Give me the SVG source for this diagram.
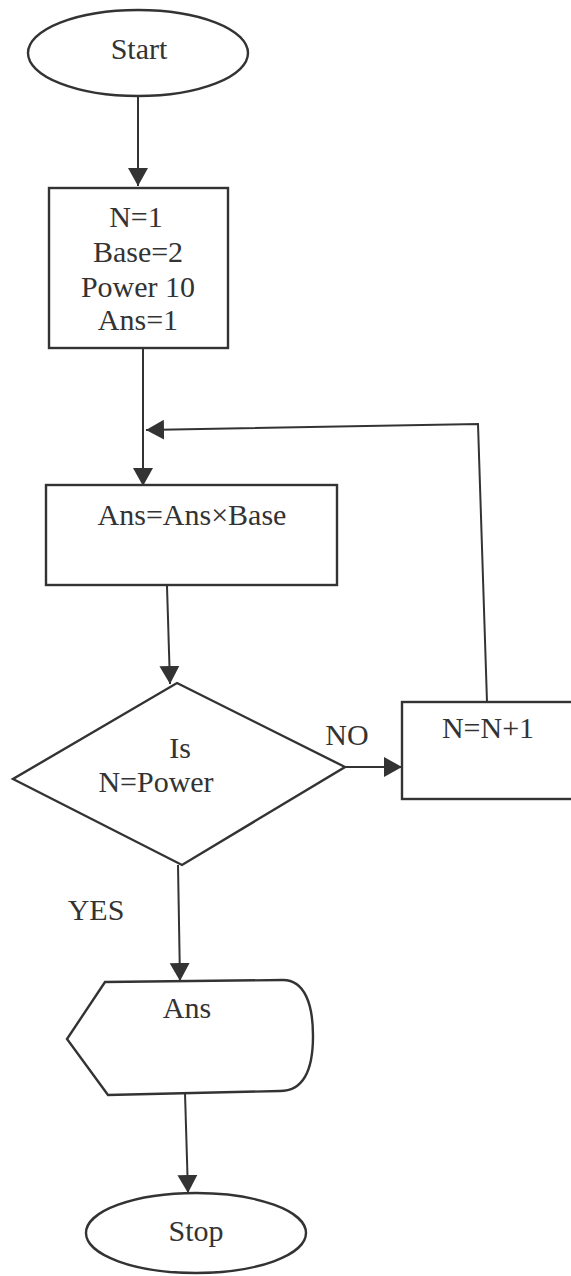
<svg xmlns="http://www.w3.org/2000/svg" width="571" height="1276" viewBox="0 0 571 1276">
<style>
.shape{fill:none;stroke:#333;stroke-width:2.4}
.conn{fill:none;stroke:#333;stroke-width:2}
.t{font-family:'Liberation Serif','DejaVu Serif','Times New Roman',serif;font-size:30px;fill:#333;text-anchor:middle}
</style>
<defs>
<marker id="ah" markerWidth="20" markerHeight="22" refX="18" refY="11" orient="auto" markerUnits="userSpaceOnUse">
<path d="M0,1 L18,11 L0,21 Z" fill="#333"/>
</marker>
</defs>
<rect width="571" height="1276" fill="#fff"/>
<g id="connectors">
<line class="conn" x1="138" y1="96" x2="138" y2="186" marker-end="url(#ah)"/>
<line class="conn" x1="143" y1="348" x2="143" y2="486" marker-end="url(#ah)"/>
<polyline class="conn" points="487,702 478,424 146,430" marker-end="url(#ah)"/>
<line class="conn" x1="167" y1="586" x2="170" y2="684" marker-end="url(#ah)"/>
<line class="conn" x1="345" y1="767" x2="402" y2="767" marker-end="url(#ah)"/>
<line class="conn" x1="178" y1="865" x2="180" y2="981" marker-end="url(#ah)"/>
<line class="conn" x1="185" y1="1093" x2="188" y2="1193" marker-end="url(#ah)"/>
</g>
<g id="start">
<ellipse class="shape" cx="138" cy="53" rx="110" ry="43"/>
<text class="t" x="139" y="59">Start</text>
</g>
<g id="init">
<rect class="shape" x="49" y="188" width="179" height="160"/>
<text class="t" x="136" y="227">N=1</text>
<text class="t" x="138" y="262">Base=2</text>
<text class="t" x="138" y="297">Power 10</text>
<text class="t" x="138" y="330">Ans=1</text>
</g>
<g id="multiply">
<rect class="shape" x="46" y="485" width="291" height="100"/>
<text class="t" x="192" y="525">Ans=Ans×Base</text>
</g>
<g id="decision">
<polygon class="shape" points="177,683 345,767 182,865 13,779"/>
<text class="t" x="180" y="758">Is</text>
<text class="t" x="156" y="792">N=Power</text>
</g>
<g id="increment">
<rect class="shape" x="402" y="702" width="180" height="97"/>
<text class="t" x="488" y="738">N=N+1</text>
</g>
<g id="labels">
<text class="t" x="347" y="745">NO</text>
<text class="t" x="96" y="920">YES</text>
</g>
<g id="output">
<path class="shape" d="M105,982 L283,980 C305,980 313,1005 313,1036 C313,1068 305,1091 280,1091 L108,1095 L67,1039 Z"/>
<text class="t" x="187" y="1018">Ans</text>
</g>
<g id="stop">
<ellipse class="shape" cx="196" cy="1233" rx="110" ry="40"/>
<text class="t" x="196" y="1241">Stop</text>
</g>
</svg>
